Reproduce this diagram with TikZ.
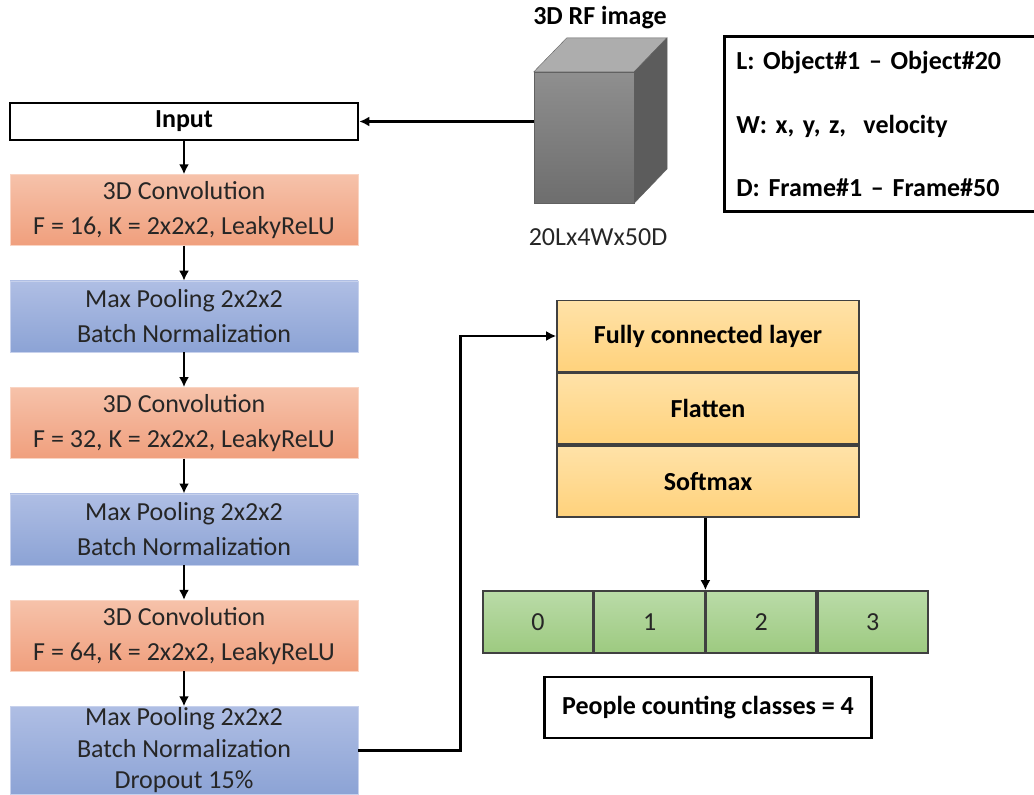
\documentclass[tikz,border=0pt]{standalone}
\usepackage{fontspec}
\setmainfont{Carlito}
\usetikzlibrary{positioning,arrows.meta}

\definecolor{convtop}{HTML}{F6C2AA}
\definecolor{convbot}{HTML}{F09F7D}
\definecolor{pooltop}{HTML}{AFBEE4}
\definecolor{poolbot}{HTML}{8CA3D5}
\definecolor{fctop}{HTML}{FFE2A8}
\definecolor{fcbot}{HTML}{FFD27C}
\definecolor{outtop}{HTML}{BADBA8}
\definecolor{outbot}{HTML}{9DCA80}
\definecolor{txt}{HTML}{262626}

\newcommand\lbl{\fontsize{26}{35}\selectfont}

\begin{document}
\begin{tikzpicture}[
	x=1pt, y=-1pt,
	>={Latex[length=10pt,width=10pt]},
	node distance=35pt,
	arr/.style={->, line width=2.6pt},
	layer/.style={
		rectangle,
		minimum width=348pt,
		minimum height=71pt,
		inner sep=0pt,
		align=center,
		text=txt,
		font=\lbl
	},
	conv/.style={layer, top color=convtop, bottom color=convbot, draw=convtop!70!white},
	pool/.style={layer, top color=pooltop, bottom color=poolbot, draw=pooltop!70!white},
	fc/.style={
		rectangle,
		minimum width=302pt,
		minimum height=71pt,
		top color=fctop,
		bottom color=fcbot,
		draw=black!75,
		line width=1.6pt,
		font=\lbl\bfseries
	},
	cell/.style={
		rectangle,
		minimum width=110pt,
		minimum height=62pt,
		top color=outtop,
		bottom color=outbot,
		draw=black!75,
		line width=1.6pt,
		text=txt,
		font=\lbl
	},
	frame/.style={draw, line width=2.6pt, font=\lbl\bfseries}]

	\useasboundingbox (0,0) rectangle (1034,795);

	% left column
	\node[frame, minimum width=348pt, minimum height=37pt] (in_0) at (184,121.5) {Input};
	\node[conv, below=33pt of in_0] (conv_1) {3D Convolution\\F = 16, K = 2x2x2, LeakyReLU};
	\node[pool, below=of conv_1] (pool_1) {Max Pooling 2x2x2\\Batch Normalization};
	\node[conv, below=of pool_1] (conv_2) {3D Convolution\\F = 32, K = 2x2x2, LeakyReLU};
	\node[pool, below=of conv_2] (pool_2) {Max Pooling 2x2x2\\Batch Normalization};
	\node[conv, below=of pool_2] (conv_3) {3D Convolution\\F = 64, K = 2x2x2, LeakyReLU};
	\node[pool, below=of conv_3, minimum height=88pt,
		font=\fontsize{26}{31.5}\selectfont] (pool_3) {Max Pooling 2x2x2\\Batch Normalization\\Dropout 15\%};

	% input cube
	\node[rectangle, minimum width=100pt, minimum height=131pt, inner sep=0pt,
		top color=black!44, bottom color=black!57, draw=black!62] (cube) at (584,137.5) {};
	\filldraw[fill=black!32, draw=black!62] (cube.north west) -- ++(33,-34) -- ++(100,0) -- (cube.north east) -- cycle;
	\filldraw[fill=black!64, draw=black!62] (cube.north east) -- ++(33,-34) -- ++(0,131) -- (cube.south east) -- cycle;
	\node[font=\lbl\bfseries] (cube_title) at (600,18) {3D RF image};
	\node[font=\lbl, text=black!85] (cube_size) at (598,237) {20Lx4Wx50D};

	% axes legend
	\node[draw, line width=2.6pt, anchor=north west, align=left, text width=298pt,
		inner xsep=12pt, inner ysep=15pt, font=\fontsize{26}{63.5}\selectfont\bfseries] (legend) at (723,35)
		{L: Object\#1 -- Object\#20\\W: x, y, z,\ \ velocity\\D: Frame\#1 -- Frame\#50};

	% dense head
	\node[fc] (fc_1) at (708,336) {Fully connected layer};
	\node[fc, below=0pt of fc_1] (fc_2) {Flatten};
	\node[fc, below=0pt of fc_2] (fc_3) {Softmax};

	% output classes
	\node[cell] (cell_0) at (538,622) {0};
	\node[cell, right=0pt of cell_0] (cell_1) {1};
	\node[cell, right=0pt of cell_1] (cell_2) {2};
	\node[cell, right=0pt of cell_2] (cell_3) {3};
	\node[frame, minimum width=327pt, minimum height=61pt] (classes) at (708,707.5) {People counting classes = 4};

	\path[arr]
	 (in_0 -| cube.west) edge (in_0.east)
	 (in_0) edge (conv_1)
	 (conv_1) edge (pool_1)
	 (pool_1) edge (conv_2)
	 (conv_2) edge (pool_2)
	 (pool_2) edge (conv_3)
	 (conv_3) edge (pool_3)
	 (fc_3.south -| cell_1.north east) edge (cell_1.north east);
	\draw[arr] (pool_3.east) -- ++(102,0) |- (fc_1.west);
\end{tikzpicture}
\end{document}
